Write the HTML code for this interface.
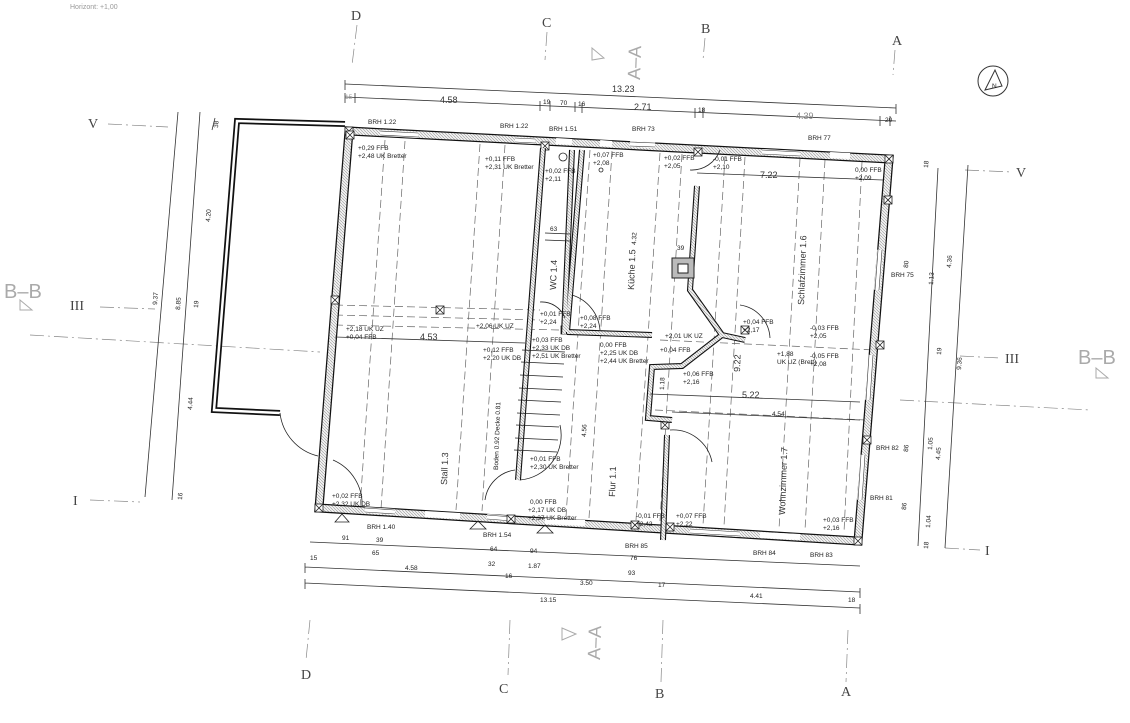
<!DOCTYPE html>
<html><head><meta charset="utf-8"><style>
html,body{margin:0;padding:0;background:#fff;width:1130px;height:723px;overflow:hidden}
svg{display:block}
text{font-family:"Liberation Sans",sans-serif;fill:#222}
.s{font-size:6.5px}
.m{font-size:9px;fill:#333}
.ax{font-family:"Liberation Serif",serif;font-size:14px;fill:#444}
.dl{stroke:#333;stroke-width:.8;fill:none}
.dash{stroke:#666;stroke-width:.7;stroke-dasharray:8 4;fill:none}
.axl{stroke:#888;stroke-width:.7;stroke-dasharray:14 4 2 4;fill:none}
.wb{stroke:#111;stroke-width:9;fill:none;stroke-linejoin:miter}
.wf{stroke:url(#h);stroke-width:6.5;fill:none;stroke-linejoin:miter}
.iwb{stroke:#111;stroke-width:6;fill:none}
.iwf{stroke:url(#h);stroke-width:3.8;fill:none}
.thin{stroke:#222;stroke-width:.8;fill:none}
.x{fill:#fff;stroke:#222;stroke-width:.8}
</style></head><body>
<svg width="1130" height="723" viewBox="0 0 1130 723" xmlns="http://www.w3.org/2000/svg">
<defs>
<pattern id="h" width="3" height="3" patternUnits="userSpaceOnUse"><rect width="3" height="3" fill="#f2f2f2"/><path d="M0 0 L3 3" stroke="#999" stroke-width=".6"/></pattern>
<g id="xb"><rect x="-4" y="-4" width="8" height="8" class="x"/><path d="M-4 -4 L4 4 M4 -4 L-4 4" class="thin"/></g>
</defs>
<text x="70" y="9" class="s" style="font-size:7px;fill:#999">Horizont: +1,00</text>

<text x="351" y="20" class="ax">D</text><text x="542" y="27" class="ax">C</text><text x="701" y="33" class="ax">B</text><text x="892" y="45" class="ax">A</text>
<text x="301" y="679" class="ax">D</text><text x="499" y="693" class="ax">C</text><text x="655" y="698" class="ax">B</text><text x="841" y="696" class="ax">A</text>
<path class="axl" d="M357 25 L352 65 M547 32 L545 60 M705 38 L703 60 M895 50 L893 75 M310 620 L306 660 M510 620 L508 675 M663 620 L661 682 M848 630 L846 682"/>
<text x="88" y="128" class="ax">V</text><text x="70" y="310" class="ax">III</text><text x="73" y="505" class="ax">I</text>
<text x="1016" y="177" class="ax">V</text><text x="1005" y="363" class="ax">III</text><text x="985" y="555" class="ax">I</text>
<path class="axl" d="M108 124 L168 127 M100 307 L155 309 M90 500 L140 502 M965 170 L1012 172 M960 356 L1000 358 M945 548 L980 550 M30 335 L320 352 M900 400 L1090 410"/>
<text x="4" y="298" style="font-size:20px;fill:#aaa">B–B</text>
<text x="1078" y="364" style="font-size:20px;fill:#aaa">B–B</text>
<path d="M20 300 L32 310 L20 310 Z M1096 368 L1108 378 L1096 378Z" fill="none" stroke="#aaa"/>
<text x="0" y="0" transform="translate(640,80) rotate(-88)" style="font-size:18px;fill:#aaa">A–A</text>
<text x="0" y="0" transform="translate(600,660) rotate(-88)" style="font-size:18px;fill:#aaa">A–A</text>
<path d="M592 48 L604 58 L592 60 Z M562 628 L576 634 L562 640Z" fill="none" stroke="#aaa"/>
<circle cx="993" cy="81" r="15" fill="none" stroke="#333"/><path d="M985 90 L995 70 L1002 86 Z" fill="none" stroke="#333"/><text x="992" y="88" class="s">N</text>

<path class="dl" d="M345 84 L896 108 M345 97 L896 121"/>
<path class="dl" d="M345 80 V90 M896 104 V114 M345 93 V103 M355 93 V103 M540 101 V111 M550 101 V111 M575 102 V112 M582 103 V113 M695 108 V118 M703 108 V118 M880 116 V126 M890 116 V126"/>
<text x="612" y="92" class="m">13.23</text>
<text x="345" y="99" class="s" style="fill:#999">15</text><text x="440" y="103" class="m">4.58</text><text x="543" y="104" class="s">19</text><text x="560" y="105" class="s">70</text><text x="578" y="106" class="s">16</text><text x="634" y="110" class="m">2.71</text><text x="698" y="112" class="s">18</text><text x="796" y="119" class="m" style="fill:#888">4.39</text><text x="885" y="122" class="s">20</text>

<path class="dl" d="M310 542 L860 566 M305 567 L860 592 M305 583 L860 608 M305 563 V573 M860 588 V598 M305 579 V589 M860 604 V614"/>
<text x="342" y="540" class="s">91</text><text x="376" y="542" class="s">39</text><text x="372" y="555" class="s">65</text><text x="490" y="551" class="s">64</text><text x="530" y="553" class="s">94</text><text x="630" y="560" class="s">76</text>
<text x="310" y="560" class="s">15</text><text x="488" y="566" class="s">32</text><text x="528" y="568" class="s">1.87</text><text x="628" y="575" class="s">93</text>
<text x="405" y="570" class="s">4.58</text><text x="505" y="578" class="s">16</text><text x="580" y="585" class="s">3.50</text><text x="658" y="587" class="s">17</text><text x="750" y="598" class="s">4.41</text><text x="848" y="602" class="s">18</text>
<text x="540" y="602" class="s">13.15</text>

<path class="dl" d="M178 112 L145 497 M200 112 L172 500 M215 118 L212 130"/>
<text transform="translate(157,305) rotate(-86)" class="s">9.37</text>
<text transform="translate(180,310) rotate(-86)" class="s">8.85</text>
<text transform="translate(210,222) rotate(-86)" class="s">4.20</text>
<text transform="translate(198,308) rotate(-86)" class="s">19</text>
<text transform="translate(192,410) rotate(-86)" class="s">4.44</text>
<text transform="translate(218,128) rotate(-86)" class="s">38</text>
<text transform="translate(182,500) rotate(-86)" class="s">16</text>
<path class="dl" d="M968 165 L945 548 M938 168 L918 546"/>
<text transform="translate(961,370) rotate(-86)" class="s">9.36</text>
<text transform="translate(951,268) rotate(-86)" class="s">4.36</text>
<text transform="translate(933,285) rotate(-86)" class="s">1.13</text>
<text transform="translate(941,355) rotate(-86)" class="s">19</text>
<text transform="translate(932,450) rotate(-86)" class="s">1.05</text>
<text transform="translate(940,460) rotate(-86)" class="s">4.45</text>
<text transform="translate(930,528) rotate(-86)" class="s">1.04</text>
<text transform="translate(908,268) rotate(-86)" class="s">80</text>
<text transform="translate(908,452) rotate(-86)" class="s">86</text>
<text transform="translate(906,510) rotate(-86)" class="s">86</text>
<text transform="translate(928,168) rotate(-86)" class="s">18</text>
<text transform="translate(928,549) rotate(-86)" class="s">18</text>

<path class="dash" d="M385 140 L360 508 M405 141 L381 509 M480 144 L456 510 M505 145 L482 511 M590 150 L566 517 M612 151 L589 518 M660 153 L636 520 M682 154 L660 521 M725 156 L703 525 M745 157 L724 526 M800 159 L779 529 M825 160 L805 530 M862 162 L844 532"/>
<path class="dash" d="M335 305 L540 310 M335 315 L540 320 M335 325 L560 330 M660 340 L875 350 M655 410 L865 420"/>

<path d="M345 124 L237 121 L214 410 L280 413" stroke="#111" stroke-width="6" fill="none"/>
<path d="M345 124 L237 121 L214 410 L280 413" stroke="#fff" stroke-width="2.5" fill="none"/>
<path class="thin" d="M280 413 A 50 50 0 0 0 318 456"/>

<polygon class="wb" points="349,131 889,159 858,541 319,508"/>
<polygon class="wf" points="349,131 889,159 858,541 319,508"/>
<!-- windows (white gaps) -->
<path stroke="#fff" stroke-width="6" fill="none" d="M380 133 L418 135 M515 140 L535 141 M556 141 L572 142 M600 143 L612 144 M630 144 L655 145 M762 152 L800 154 M830 155 L850 156 M880 250 L877 290 M871 355 L868 400 M863 455 L860 500 M365 510 L395 512 M425 514 L460 516 M487 517 L512 519 M545 521 L585 523 M690 531 L740 534 M760 535 L800 537"/>
<path stroke="#333" stroke-width=".6" fill="none" d="M380 131 L418 133 M380 135 L418 137 M515 138 L535 139 M515 142 L535 143 M630 142 L655 143 M630 146 L655 147 M762 150 L800 152 M762 154 L800 156 M878 250 L875 290 M882 250 L879 290 M869 355 L866 400 M873 355 L870 400 M861 455 L858 500 M865 455 L862 500 M365 508 L395 510 M365 512 L395 514 M487 515 L512 517 M487 519 L512 521 M690 529 L740 532 M690 533 L740 536"/>
<use href="#xb" x="319" y="508"/><use href="#xb" x="349" y="131"/><use href="#xb" x="889" y="159"/><use href="#xb" x="858" y="541"/>
<use href="#xb" x="350" y="135"/><use href="#xb" x="545" y="146"/><use href="#xb" x="698" y="152"/><use href="#xb" x="335" y="300"/><use href="#xb" x="888" y="200"/><use href="#xb" x="880" y="345"/><use href="#xb" x="867" y="440"/><use href="#xb" x="511" y="519"/><use href="#xb" x="565" y="330"/><use href="#xb" x="635" y="525"/><use href="#xb" x="670" y="527"/><use href="#xb" x="745" y="330"/><use href="#xb" x="665" y="425"/><use href="#xb" x="440" y="310"/>

<path class="iwb" d="M543 148 L518 480 M572 150 L564 334 M582 150 L567 332 M567 332 L652 335 M697 186 L690 290 L722 335 L745 340 M722 335 L682 366 L652 367 L648 418 L672 420 M667 435 L663 540"/>
<path class="iwf" d="M543 148 L518 480 M572 150 L564 334 M582 150 L567 332 M567 332 L652 335 M697 186 L690 290 L722 335 L745 340 M722 335 L682 366 L652 367 L648 418 L672 420 M667 435 L663 540"/>
<path class="thin" d="M545 233 L570 234 M545 240 L570 241"/>
<rect x="672" y="258" width="22" height="20" fill="#bbb" stroke="#222"/><rect x="678" y="264" width="10" height="9" fill="#fff" stroke="#222"/>
<path class="thin" d="M522 350 L565 352 M521 362 L564 364 M520 375 L563 377 M519 388 L562 390 M518 400 L561 402 M517 413 L560 415 M516 425 L559 427 M515 438 L558 440 M514 450 L557 452"/>
<path class="thin" d="M333 460 A48 48 0 0 1 362 507 M572 295 A40 40 0 0 1 600 330 M740 305 A35 35 0 0 1 770 338 M670 430 A40 40 0 0 1 712 462 M485 500 A35 35 0 0 1 515 470 M560 425 A45 45 0 0 1 520 480 M690 170 A30 30 0 0 0 720 150 M540 302 A25 25 0 0 1 565 318"/>
<circle cx="563" cy="157" r="4" class="thin"/><circle cx="601" cy="170" r="2" class="thin"/>

<path class="dl" d="M335 337 L525 343 M697 173 L883 180 M650 394 L860 402 M672 412 L860 420"/>
<text x="420" y="340" class="m">4.53</text><text x="760" y="178" class="m">7.22</text><text x="742" y="398" class="m">5.22</text><text x="772" y="416" class="s">4.54</text>
<text transform="translate(740,372) rotate(-88)" class="m">9.22</text>
<text transform="translate(636,245) rotate(-88)" class="s">4.32</text>
<text transform="translate(586,437) rotate(-88)" class="s">4.56</text>
<text transform="translate(664,390) rotate(-88)" class="s">1.18</text>
<text x="677" y="250" class="s">39</text><text x="550" y="231" class="s">63</text>

<text transform="translate(447,485) rotate(-88)" class="m">Stall 1.3</text>
<text transform="translate(556,290) rotate(-88)" class="m">WC 1.4</text>
<text transform="translate(634,290) rotate(-88)" class="m">Küche 1.5</text>
<text transform="translate(804,305) rotate(-88)" class="m">Schlafzimmer 1.6</text>
<text transform="translate(615,497) rotate(-88)" class="m">Flur 1.1</text>
<text transform="translate(785,515) rotate(-88)" class="m">Wohnzimmer 1.7</text>
<text transform="translate(498,470) rotate(-88)" class="s">Boden 0.92  Decke 0.81</text>

<text x="368" y="124" class="s">BRH 1.22</text><text x="500" y="128" class="s">BRH 1.22</text><text x="549" y="131" class="s">BRH 1.51</text><text x="632" y="131" class="s">BRH 73</text><text x="808" y="140" class="s">BRH 77</text>
<text x="891" y="277" class="s">BRH 75</text><text x="876" y="450" class="s">BRH 82</text><text x="870" y="500" class="s">BRH 81</text>
<text x="367" y="529" class="s">BRH 1.40</text><text x="483" y="537" class="s">BRH 1.54</text><text x="625" y="548" class="s">BRH 85</text><text x="753" y="555" class="s">BRH 84</text><text x="810" y="557" class="s">BRH 83</text>

<g class="s">
<text x="358" y="150">+0,29 FFB</text><text x="358" y="158">+2,48 UK Bretter</text>
<text x="485" y="161">+0,11 FFB</text><text x="485" y="169">+2,31 UK Bretter</text>
<text x="545" y="173">+0,02 FFB</text><text x="545" y="181">+2,11</text>
<text x="593" y="157">+0,07 FFB</text><text x="593" y="165">+2,08</text>
<text x="664" y="160">+0,02 FFB</text><text x="664" y="168">+2,05</text>
<text x="713" y="161">-0,01 FFB</text><text x="713" y="169">+2,10</text>
<text x="855" y="172">0,00 FFB</text><text x="855" y="180">+2,09</text>
<text x="346" y="331">+2,18 UK UZ</text><text x="346" y="339">+0,04 FFB</text>
<text x="476" y="328">+2,06 UK UZ</text>
<text x="540" y="316">+0,01 FFB</text><text x="540" y="324">+2,24</text>
<text x="580" y="320">+0,08 FFB</text><text x="580" y="328">+2,24</text>
<text x="483" y="352">+0,12 FFB</text><text x="483" y="360">+2,20 UK DB</text>
<text x="532" y="342">+0,03 FFB</text><text x="532" y="350">+2,33 UK DB</text><text x="532" y="358">+2,51 UK Bretter</text>
<text x="600" y="347">0,00 FFB</text><text x="600" y="355">+2,25 UK DB</text><text x="600" y="363">+2,44 UK Bretter</text>
<text x="665" y="338">+2,01 UK UZ</text><text x="660" y="352">+0,04 FFB</text>
<text x="743" y="324">+0,04 FFB</text><text x="743" y="332">+2,17</text>
<text x="810" y="330">-0,03 FFB</text><text x="810" y="338">+2,05</text>
<text x="777" y="356">+1,88</text><text x="777" y="364">UK UZ (Brett)</text>
<text x="810" y="358">-0,05 FFB</text><text x="810" y="366">+2,08</text>
<text x="683" y="376">+0,06 FFB</text><text x="683" y="384">+2,16</text>
<text x="530" y="461">+0,01 FFB</text><text x="530" y="469">+2,30 UK Bretter</text>
<text x="332" y="498">+0,02 FFB</text><text x="332" y="506">+2,32 UK DB</text>
<text x="530" y="504">0,00 FFB</text><text x="528" y="512">+2,17 UK DB</text><text x="528" y="520">+2,37 UK Bretter</text>
<text x="636" y="518">-0,01 FFB</text><text x="636" y="526">+2,42</text>
<text x="676" y="518">+0,07 FFB</text><text x="676" y="526">+2,22</text>
<text x="823" y="522">+0,03 FFB</text><text x="823" y="530">+2,16</text>
</g>
<path d="M335 522 L342 514 L349 522 Z M470 529 L478 521 L486 529Z M537 533 L545 525 L553 533Z" fill="none" stroke="#222" stroke-width=".8"/>
</svg>
</body></html>
